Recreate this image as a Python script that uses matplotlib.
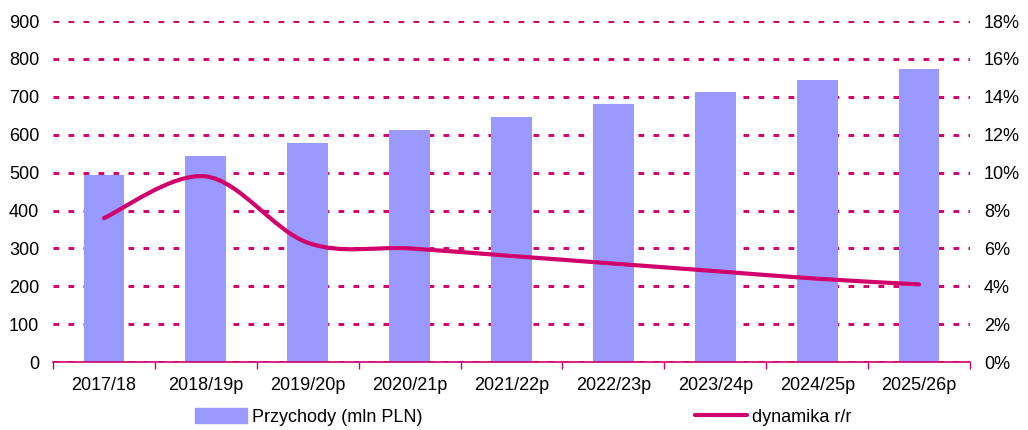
import matplotlib.pyplot as plt
import numpy as np
from matplotlib.path import Path
from matplotlib.patches import PathPatch
from matplotlib.lines import Line2D
from matplotlib.patches import Patch
from matplotlib.ticker import FuncFormatter

# data
years = ["2017/18", "2018/19p", "2019/20p", "2020/21p", "2021/22p",
         "2022/23p", "2023/24p", "2024/25p", "2025/26p"]
revenue = [493, 543, 578, 612, 646, 681, 712, 744, 773]
growth = [7.6, 9.8, 6.3, 6.0, 5.6, 5.2, 4.8, 4.4, 4.1]

magenta = "#D1006B"
violet = "#9999FF"

plt.rcParams['font.family'] = ['Liberation Sans', 'DejaVu Sans']
plt.rcParams['lines.scale_dashes'] = False

fig = plt.figure(figsize=(10.28, 4.30), dpi=100)
ax = fig.add_axes([0.0516, 0.158, 0.892, 0.793])

x = np.arange(len(years))
ax.bar(x, revenue, width=0.40, color=violet, zorder=2)
ax.set_xlim(-0.5, len(years) - 0.5)
ax.set_ylim(0, 900)
ax.set_yticks(np.arange(0, 901, 100))
ax.yaxis.grid(True, color=magenta, linestyle=(0, (4.1, 6.7)), linewidth=2.1, zorder=1)
ax.set_axisbelow(True)

ax.set_xticks(x)
ax.set_xticklabels(years)
ax.set_xticks(np.arange(-0.5, len(years)), minor=True)
ax.tick_params(axis='x', which='major', length=0, pad=11, labelsize=13)
ax.tick_params(axis='x', which='minor', length=5, color=magenta, width=1)
ax.tick_params(axis='y', length=0, pad=10, labelsize=13)
for s in ['top', 'left', 'right']:
    ax.spines[s].set_visible(False)
ax.spines['bottom'].set_color(magenta)
ax.spines['bottom'].set_linewidth(1.2)

ax2 = ax.twinx()
ax2.set_ylim(0, 18)
ax2.set_yticks(np.arange(0, 19, 2))
ax2.yaxis.set_major_formatter(FuncFormatter(lambda v, p: f"{v:.0f}%"))
ax2.tick_params(axis='y', length=0, pad=10, labelsize=13)
for s in ['top', 'left', 'right', 'bottom']:
    ax2.spines[s].set_visible(False)

# smoothed line (Bezier through the points, like a smoothed spreadsheet line)
pts = np.column_stack([x, growth]).astype(float)
ext = np.vstack([pts[0], pts, pts[-1]])
verts = [tuple(pts[0])]
codes = [Path.MOVETO]
for i in range(len(pts) - 1):
    p0, p1, p2, p3 = ext[i], ext[i + 1], ext[i + 2], ext[i + 3]
    c1 = p1 + (p2 - p0) / 6
    c2 = p2 - (p3 - p1) / 6
    verts += [tuple(c1), tuple(c2), tuple(p2)]
    codes += [Path.CURVE4] * 3
ax2.add_patch(PathPatch(Path(verts, codes), facecolor='none', edgecolor=magenta,
                        linewidth=3, capstyle='round', joinstyle='round', zorder=3))

handles = [Patch(color=violet, label="Przychody (mln PLN)"),
           Line2D([0], [0], color=magenta, linewidth=3, solid_capstyle='round',
                  label="dynamika r/r")]
fig.legend(handles=handles, loc='center', bbox_to_anchor=(0.509, 0.03), ncol=2,
           frameon=False, fontsize=13, handlelength=2.9, handleheight=0.9,
           handletextpad=0.3, columnspacing=15.05)

fig.savefig("out.png", dpi=100)
